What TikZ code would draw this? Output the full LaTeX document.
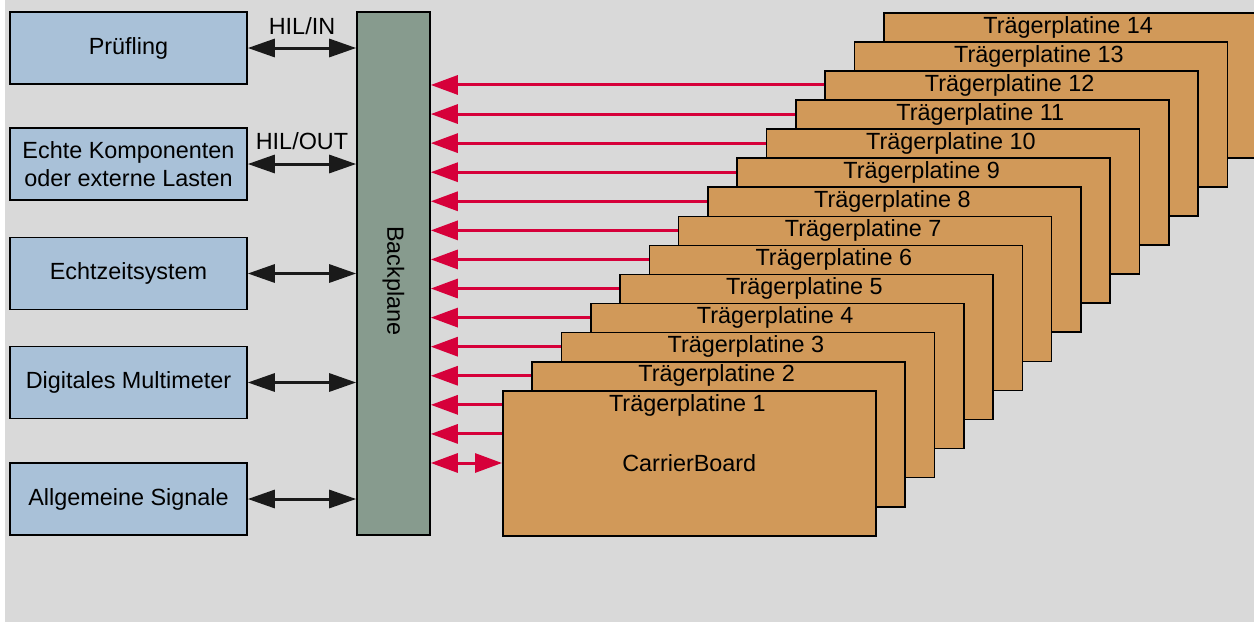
\documentclass[tikz,border=0pt]{standalone}
\usepackage{fontspec}
\setmainfont{Liberation Sans}
\usetikzlibrary{arrows.meta}
\definecolor{bg}{RGB}{217,217,217}
\definecolor{lblue}{RGB}{169,193,216}
\definecolor{bpgreen}{RGB}{135,155,142}
\definecolor{board}{RGB}{209,153,89}
\definecolor{redarr}{RGB}{214,0,58}
\definecolor{blkarr}{RGB}{26,26,26}
\begin{document}
\begin{tikzpicture}[x=1pt,y=-1pt,
  every node/.style={font=\fontsize{23.4}{28}\selectfont, inner sep=0pt},
  lbox/.style={draw=black, line width=1.6pt, fill=lblue, minimum width=237pt, minimum height=72pt, align=center},
  bpbox/.style={draw=black, line width=1.6pt, fill=bpgreen, minimum width=73pt, minimum height=523pt},
  boardbox/.style={draw=black, line width=1.6pt, fill=board, minimum width=373pt, minimum height=145pt, anchor=north west},
  blk/.style={draw=blkarr, line width=3pt, {Triangle[length=27pt,width=18pt]}-{Triangle[length=27pt,width=18pt]}},
  redone/.style={draw=redarr, line width=3pt, -{Triangle[length=27pt,width=19pt]}},
  redtwo/.style={draw=redarr, line width=3pt, {Triangle[length=27pt,width=19pt]}-{Triangle[length=27pt,width=19pt]}}
]
\useasboundingbox (0,0) rectangle (1254,622);
\clip (0,0) rectangle (1254,622);
\fill[bg] (5,0) rectangle (1254,622);

% left boxes
\node[lbox] (pr) at (128.5,48) {Prüfling};
\node[lbox] (ek) at (128.5,164) {Echte Komponenten\\oder externe Lasten};
\node[lbox] (ez) at (128.5,273.5) {Echtzeitsystem};
\node[lbox] (dm) at (128.5,382.5) {Digitales Multimeter};
\node[lbox] (as) at (128.5,499) {Allgemeine Signale};

% backplane
\node[bpbox] (bp) at (393.5,273.5) {};
\node[rotate=-90] (bpt) at (393.5,281) {Backplane};

% black arrows
\draw[blk] (pr.east) -- (bp.west |- pr.east) node[midway, yshift=22pt] (hin) {HIL/IN};
\draw[blk] (ek.east) -- (bp.west |- ek.east) node[midway, yshift=23pt] (hout) {HIL/OUT};
\draw[blk] (ez.east) -- (bp.west |- ez.east);
\draw[blk] (dm.east) -- (bp.west |- dm.east);
\draw[blk] (as.east) -- (bp.west |- as.east);

% boards (back to front)
\foreach \k in {14,13,...,1}{
  \node[boardbox] (b\k) at ({502+29.3*(\k-1)},{390-29.08*(\k-1)}) {};
  \node (bl\k) at ([yshift=-15pt,xshift=-2pt]b\k.north) {Trägerplatine \k};
}
\node (cb) at (b1.center) {CarrierBoard};

% red arrows
\foreach \j in {0,...,13}{
  \coordinate (ry\j) at (0,{463-29.08*\j});
}
\draw[redtwo] (bp.east |- ry0) -- (b1.west |- ry0);
\draw[redone] (b1.west |- ry1) -- (bp.east |- ry1);
\draw[redone] (b1.west |- ry2) -- (bp.east |- ry2);
\foreach \j [evaluate=\j as \n using int(\j-1)] in {3,...,13}{
  \draw[redone] (b\n.west |- ry\j) -- (bp.east |- ry\j);
}
\end{tikzpicture}
\end{document}
